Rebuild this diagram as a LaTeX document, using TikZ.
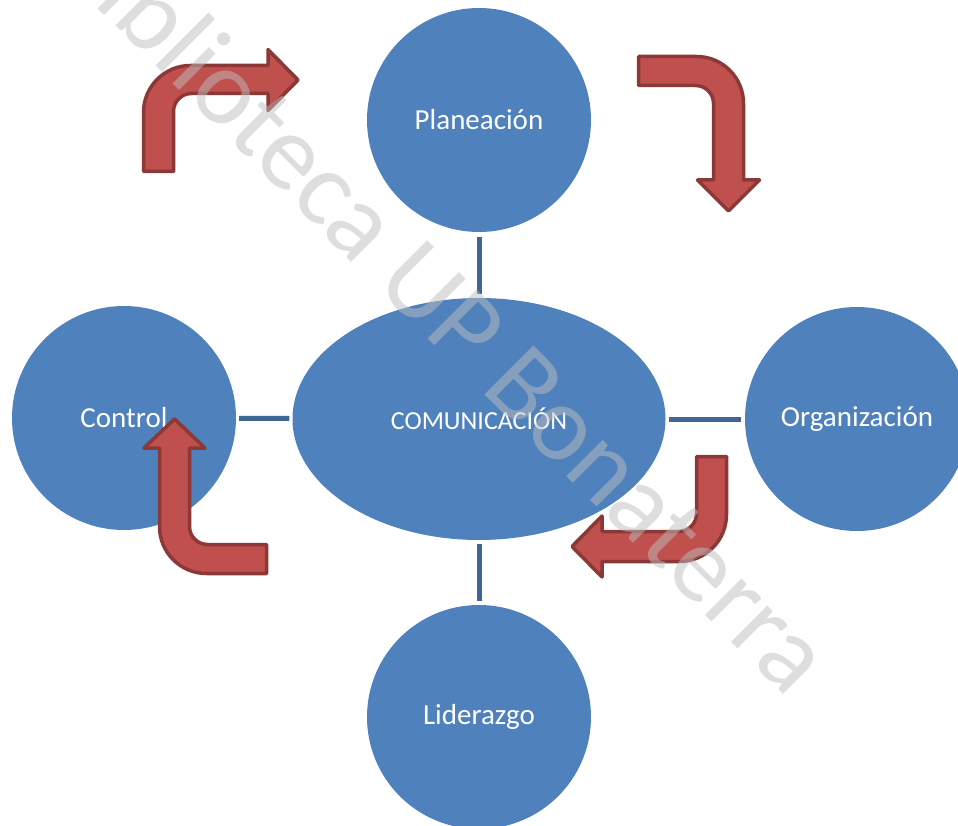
\documentclass[tikz,border=0pt]{standalone}
\usepackage{fontspec}
\setmainfont{Carlito}
\usetikzlibrary{shapes.geometric}
\definecolor{nodeblue}{RGB}{79,129,189}
\definecolor{connblue}{RGB}{64,102,150}
\definecolor{arrowred}{RGB}{192,80,77}
\definecolor{arrowedge}{RGB}{140,56,54}
\definecolor{wmgray}{RGB}{190,190,190}
\tikzset{
  circ/.style={circle, fill=nodeblue, draw=none, minimum size=224pt, inner sep=0pt, text=white, font=\fontsize{29}{34}\selectfont},
  ell/.style={ellipse, fill=nodeblue, draw=none, minimum width=373pt, minimum height=242pt, inner sep=0pt, text=white, font=\fontsize{26}{31}\selectfont},
  conn/.style={draw=connblue, line width=5pt},
  bentarrow/.style={fill=arrowred, draw=arrowedge, line width=3.5pt, line join=round},
  wm/.style={text=wmgray, text opacity=0.5, rotate=-45, font=\fontsize{108}{120}\selectfont, inner sep=0pt}
}
\begin{document}
\begin{tikzpicture}[x=1pt, y=-1pt]
\useasboundingbox (0,0) rectangle (958,826);
\clip (0,0) rectangle (958,826);
\fill[white] (0,0) rectangle (958,826);
% nodes
\node[circ] (plan) at (479,120) {Planeación};
\node[ell]  (com)  at (479,419) {COMUNICACIÓN};
\node[circ] (ctrl) at (124,418) {Control};
\node[circ] (org)  at (857,419) {Organización};
\node[circ] (lid)  at (479,717) {Liderazgo};
% connectors
\draw[conn, shorten <=5pt, shorten >=4pt] (plan) -- (com);
\draw[conn, shorten <=3pt, shorten >=3pt] (ctrl) -- (com);
\draw[conn, shorten <=4pt, shorten >=3pt] (org) -- (com);
\draw[conn, shorten <=4pt, shorten >=4pt] (lid) -- (com);
% bent arrows
\draw[bentarrow] (143.5,171.5) -- (143.5,112.5) .. controls (143.5,86.5) and (164.5,65.5) .. (190.5,65.5) -- (268,65.5) -- (268,49.5) -- (298,80) -- (268,110.5) -- (268,93.5) -- (191.5,93.5) .. controls (181.5,93.5) and (173.5,101.5) .. (173.5,111.5) -- (173.5,171.5) -- cycle;
\draw[bentarrow] (638.5,56.5) -- (696.5,56.5) .. controls (722.5,56.5) and (743.5,77.5) .. (743.5,103.5) -- (743.5,180) -- (759.5,180) -- (728.5,211) -- (697.5,180) -- (713.5,180) -- (713.5,103.5) .. controls (713.5,93.5) and (705.5,85.5) .. (695.5,85.5) -- (638.5,85.5) -- cycle;
\draw[bentarrow] (696.5,456.5) -- (726.5,456.5) -- (726.5,514.5) .. controls (726.5,540.5) and (705.5,561.5) .. (679.5,561.5) -- (602,561.5) -- (602,577) -- (572,546.5) -- (602,516) -- (602,531.5) -- (678.5,531.5) .. controls (688.5,531.5) and (696.5,523.5) .. (696.5,513.5) -- cycle;
\draw[bentarrow] (266.5,544.5) -- (266.5,573.5) -- (206.5,573.5) .. controls (180.5,573.5) and (159.5,552.5) .. (159.5,526.5) -- (159.5,448) -- (144,448) -- (174.5,419) -- (205,448) -- (189.5,448) -- (189.5,526.5) .. controls (189.5,536.5) and (197.5,544.5) .. (207.5,544.5) -- cycle;
% watermark
\node[wm] (mark) at (446,304) {Biblioteca UP Bonaterra};
\end{tikzpicture}
\end{document}
